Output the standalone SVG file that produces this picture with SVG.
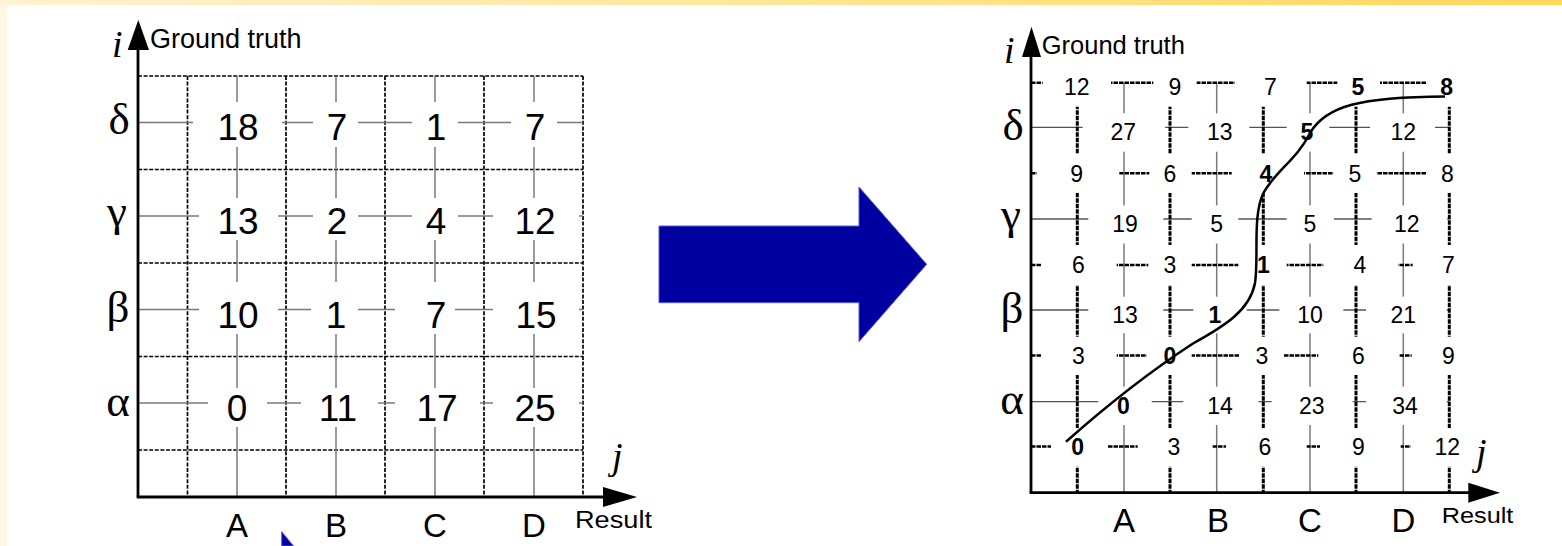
<svg xmlns="http://www.w3.org/2000/svg" width="1562" height="546" viewBox="0 0 1562 546">
<style>
.dash{stroke:#000;stroke-width:1.7;stroke-dasharray:4 1.6;fill:none}
.gv{stroke:#7a7a7a;stroke-width:1.5;fill:none}
.gh{stroke:#555;stroke-width:1.3;fill:none}
.tdash{stroke:#000;stroke-width:3;stroke-dasharray:4.5 1;fill:none}
.hdash{stroke:#000;stroke-width:2.6;stroke-dasharray:4.5 1;fill:none}
.axis{stroke:#000;stroke-width:2.8;fill:none}
.box{fill:#fff}
.big{font-family:"Liberation Sans",Arial,sans-serif;font-size:37px;text-anchor:middle;fill:#000}
.sm{font-family:"Liberation Sans",Arial,sans-serif;font-size:23px;text-anchor:middle;fill:#000}
.b{font-weight:bold}
.gr{font-family:"Liberation Serif","Times New Roman",serif;font-size:45px;text-anchor:middle;fill:#000}
.it{font-family:"Liberation Serif","Times New Roman",serif;font-style:italic;font-size:38px;fill:#000}
.col{font-family:"Liberation Sans",Arial,sans-serif;font-size:33px;text-anchor:middle;fill:#000}
.lbl{font-family:"Liberation Sans",Arial,sans-serif;fill:#000}
.blue{fill:#0000a0;stroke:#5a5ad8;stroke-width:1}
</style>
<defs>
<linearGradient id="topband" x1="0" y1="0" x2="1" y2="0">
<stop offset="0" stop-color="#fff3d2"/>
<stop offset="1" stop-color="#ffd75c"/>
</linearGradient>
</defs>
<g id="background">
<rect x="0" y="0" width="1562" height="546" fill="#fff"/>
<rect x="0" y="0" width="7" height="546" fill="#fff7e3"/>
<rect x="0" y="0" width="1562" height="5" fill="url(#topband)"/>
</g>

<g id="grid-left">
<g class="dash">
<line x1="138" y1="76" x2="583" y2="76"/>
<line x1="138" y1="169.5" x2="583" y2="169.5"/>
<line x1="138" y1="263" x2="583" y2="263"/>
<line x1="138" y1="356.5" x2="583" y2="356.5"/>
<line x1="138" y1="450" x2="583" y2="450"/>
<line x1="187.5" y1="76" x2="187.5" y2="497"/>
<line x1="286" y1="76" x2="286" y2="497"/>
<line x1="385" y1="76" x2="385" y2="497"/>
<line x1="484" y1="76" x2="484" y2="497"/>
<line x1="583" y1="76" x2="583" y2="497"/>
</g>
<g class="gv">
<line x1="237" y1="76" x2="237" y2="497"/>
<line x1="336" y1="76" x2="336" y2="497"/>
<line x1="435" y1="76" x2="435" y2="497"/>
<line x1="534" y1="76" x2="534" y2="497"/>
<line x1="138" y1="122.5" x2="583" y2="122.5"/>
<line x1="138" y1="216" x2="583" y2="216"/>
<line x1="138" y1="309.5" x2="583" y2="309.5"/>
<line x1="138" y1="403" x2="583" y2="403"/>
</g>
<g class="box">
<rect x="193" y="102" width="89" height="45"/>
<rect x="313" y="102" width="45" height="45"/>
<rect x="412" y="102" width="46" height="45"/>
<rect x="511" y="102" width="46" height="45"/>
<rect x="199" y="198" width="79" height="42"/>
<rect x="313" y="198" width="45" height="42"/>
<rect x="412" y="198" width="46" height="42"/>
<rect x="493" y="198" width="86" height="42"/>
<rect x="199" y="282" width="79" height="52"/>
<rect x="311" y="282" width="47" height="52"/>
<rect x="395" y="282" width="60" height="52"/>
<rect x="493" y="282" width="86" height="52"/>
<rect x="208" y="388" width="59" height="39"/>
<rect x="301" y="388" width="77" height="39"/>
<rect x="395" y="388" width="85" height="39"/>
<rect x="493" y="388" width="86" height="39"/>
</g>
<g class="big">
<text x="238" y="140">18</text><text x="337" y="140">7</text><text x="436" y="140">1</text><text x="535" y="140">7</text>
<text x="238" y="233.5">13</text><text x="337" y="233.5">2</text><text x="436" y="233.5">4</text><text x="535" y="233.5">12</text>
<text x="238" y="328">10</text><text x="336" y="328">1</text><text x="436" y="328">7</text><text x="536" y="328">15</text>
<text x="237" y="420.5">0</text><text x="338" y="420.5">11</text><text x="437" y="420.5">17</text><text x="535" y="420.5">25</text>
</g>
<g class="gr">
<text x="119" y="134">δ</text>
<text x="117" y="226">γ</text>
<text x="118" y="322">β</text>
<text x="118" y="416">α</text>
</g>
<g class="col">
<text x="237" y="537">A</text>
<text x="336" y="537">B</text>
<text x="435" y="537">C</text>
<text x="534" y="537">D</text>
</g>
<text class="lbl" x="150" y="47.5" font-size="27">Ground truth</text>
<text class="lbl" x="575" y="528" font-size="23" textLength="77" lengthAdjust="spacingAndGlyphs">Result</text>
<text class="it" x="112" y="57">i</text>
<text class="it" x="612" y="469">j</text>
</g>

<g id="arrow-main">
<polygon class="blue" points="659,226 859,226 859,187 926.7,264.3 859,341.7 859,302.7 659,302.7"/>
</g>
<g id="arrow-partial">
<polygon class="blue" points="281.7,531.7 293.5,546 281.7,546"/>
</g>

<g id="grid-right">
<g class="gv">
<line x1="1124" y1="82.7" x2="1124" y2="492.7"/>
<line x1="1216.7" y1="82.7" x2="1216.7" y2="492.7"/>
<line x1="1310" y1="82.7" x2="1310" y2="492.7"/>
<line x1="1403.3" y1="82.7" x2="1403.3" y2="492.7"/>
</g>
<g class="gh">
<line x1="1031" y1="127.3" x2="1449.3" y2="127.3"/>
<line x1="1031" y1="219" x2="1449.3" y2="219"/>
<line x1="1031" y1="310" x2="1449.3" y2="310"/>
<line x1="1031" y1="401.7" x2="1449.3" y2="401.7"/>
</g>
<g class="tdash">
<line x1="1077.3" y1="82.7" x2="1077.3" y2="492.7"/>
<line x1="1170" y1="82.7" x2="1170" y2="492.7"/>
<line x1="1263.3" y1="82.7" x2="1263.3" y2="492.7"/>
<line x1="1356" y1="82.7" x2="1356" y2="492.7"/>
<line x1="1449.3" y1="82.7" x2="1449.3" y2="492.7"/>
</g>
<g class="hdash">
<line x1="1031" y1="82.7" x2="1449.3" y2="82.7"/>
<line x1="1031" y1="173.3" x2="1449.3" y2="173.3"/>
<line x1="1031" y1="265" x2="1449.3" y2="265"/>
<line x1="1031" y1="355.5" x2="1449.3" y2="355.5"/>
<line x1="1031" y1="446.5" x2="1449.3" y2="446.5"/>
</g>
<g class="box">
<rect x="1042.7" y="63" width="68.3" height="43.7"/>
<rect x="1153.3" y="63" width="43.4" height="43.7"/>
<rect x="1235" y="63" width="71.7" height="43.7"/>
<rect x="1337.3" y="63" width="42.7" height="43.7"/>
<rect x="1426.7" y="63" width="35" height="43.7"/>
<rect x="1037" y="154" width="82.3" height="38.7"/>
<rect x="1149.3" y="154" width="42.4" height="38.7"/>
<rect x="1231.7" y="154" width="72.3" height="38.7"/>
<rect x="1333.3" y="154" width="43.4" height="38.7"/>
<rect x="1426" y="154" width="35" height="38.7"/>
<rect x="1041.7" y="245" width="75" height="40"/>
<rect x="1148.3" y="245" width="43.4" height="40"/>
<rect x="1238.3" y="245" width="48.4" height="40"/>
<rect x="1323.3" y="245" width="75" height="40"/>
<rect x="1412.7" y="245" width="48" height="40"/>
<rect x="1041.7" y="336.7" width="75" height="38.3"/>
<rect x="1146.7" y="336.7" width="45" height="38.3"/>
<rect x="1240" y="336.7" width="43.3" height="38.3"/>
<rect x="1318.3" y="336.7" width="81" height="38.3"/>
<rect x="1411.7" y="336.7" width="48" height="38.3"/>
<rect x="1051" y="428.3" width="56.7" height="38.4"/>
<rect x="1137.7" y="428.3" width="74.6" height="38.4"/>
<rect x="1226" y="428.3" width="80.7" height="38.4"/>
<rect x="1320" y="428.3" width="80.7" height="38.4"/>
<rect x="1410.7" y="428.3" width="55" height="38.4"/>
<rect x="1082.7" y="113.3" width="82.3" height="38.4"/>
<rect x="1188.3" y="113.3" width="61" height="38.4"/>
<rect x="1286.7" y="113.3" width="42.6" height="38.4"/>
<rect x="1370" y="113.3" width="65" height="38.4"/>
<rect x="1088.3" y="205.5" width="75" height="38"/>
<rect x="1191.7" y="205.5" width="46.6" height="38"/>
<rect x="1286.7" y="205.5" width="47.3" height="38"/>
<rect x="1371.7" y="205.5" width="75.5" height="38"/>
<rect x="1088.3" y="296.7" width="75" height="36.6"/>
<rect x="1193.3" y="296.7" width="53.4" height="36.6"/>
<rect x="1279.3" y="296.7" width="64" height="36.6"/>
<rect x="1366" y="296.7" width="80.7" height="36.6"/>
<rect x="1098.3" y="386.7" width="53.4" height="38.3"/>
<rect x="1183.3" y="386.7" width="75" height="38.3"/>
<rect x="1271.7" y="386.7" width="81" height="38.3"/>
<rect x="1366" y="386.7" width="80.7" height="38.3"/>
</g>
<g class="sm">
<text x="1076.7" y="95">12</text><text x="1175" y="95">9</text><text x="1270.5" y="95">7</text><text class="b" x="1358" y="95">5</text><text class="b" x="1446.7" y="95">8</text>
<text x="1076.7" y="181.7">9</text><text x="1170" y="181.7">6</text><text class="b" x="1266" y="181.7">4</text><text x="1355" y="181.7">5</text><text x="1447.3" y="181.7">8</text>
<text x="1078.3" y="273">6</text><text x="1170" y="273">3</text><text class="b" x="1263.3" y="273">1</text><text x="1360" y="273">4</text><text x="1448.3" y="273">7</text>
<text x="1078.3" y="363.8">3</text><text class="b" x="1170" y="363.8">0</text><text x="1262" y="363.8">3</text><text x="1358.3" y="363.8">6</text><text x="1448.3" y="363.8">9</text>
<text class="b" x="1077.7" y="454.8">0</text><text x="1174" y="454.8">3</text><text x="1265" y="454.8">6</text><text x="1358.3" y="454.8">9</text><text x="1447.3" y="454.8">12</text>
<text x="1123.3" y="140">27</text><text x="1219.7" y="140">13</text><text class="b" x="1307" y="140">5</text><text x="1403.3" y="140">12</text>
<text x="1125" y="231.7">19</text><text x="1216.7" y="231.7">5</text><text x="1310" y="231.7">5</text><text x="1406.7" y="231.7">12</text>
<text x="1125" y="323">13</text><text class="b" x="1215" y="323">1</text><text x="1310" y="323">10</text><text x="1403.3" y="323">21</text>
<text class="b" x="1123.3" y="413.5">0</text><text x="1220" y="413.5">14</text><text x="1311.7" y="413.5">23</text><text x="1405" y="413.5">34</text>
</g>
<g class="gr">
<text x="1013" y="140">δ</text>
<text x="1011" y="229">γ</text>
<text x="1012" y="323">β</text>
<text x="1012" y="414">α</text>
</g>
<g class="col">
<text x="1124" y="531.7">A</text>
<text x="1218" y="531.7">B</text>
<text x="1310" y="531.7">C</text>
<text x="1403.3" y="531.7">D</text>
</g>
<text class="lbl" x="1041.7" y="54" font-size="25.5">Ground truth</text>
<text class="lbl" x="1441.7" y="523.3" font-size="22.5" textLength="71.7" lengthAdjust="spacingAndGlyphs">Result</text>
<text class="it" x="1004" y="63">i</text>
<text class="it" x="1476" y="465">j</text>
</g>

<g id="connectors">
<line class="axis" x1="138" y1="497" x2="138" y2="48"/>
<polygon points="127.7,50 149,50 138.3,20"/>
<line class="axis" x1="136.7" y1="497" x2="605" y2="497"/>
<polygon points="603,487 603,507 637,497"/>
<line class="axis" x1="1031" y1="492.7" x2="1031" y2="55"/>
<polygon points="1022,57 1041,57 1031.5,26.7"/>
<line class="axis" x1="1029.6" y1="492.7" x2="1470" y2="492.7"/>
<polygon points="1468.3,482.7 1468.3,502.7 1500,492.7"/>
<path d="M1066,441.7 C1095,416 1140,378 1193,343.5 C1225,326 1250,310 1255,283 C1259,258 1252,214 1264,192 C1275,172 1298,158 1310,133 C1326,106 1360,97 1445,96.5" fill="none" stroke="#000" stroke-width="2.5"/>
</g>
</svg>
